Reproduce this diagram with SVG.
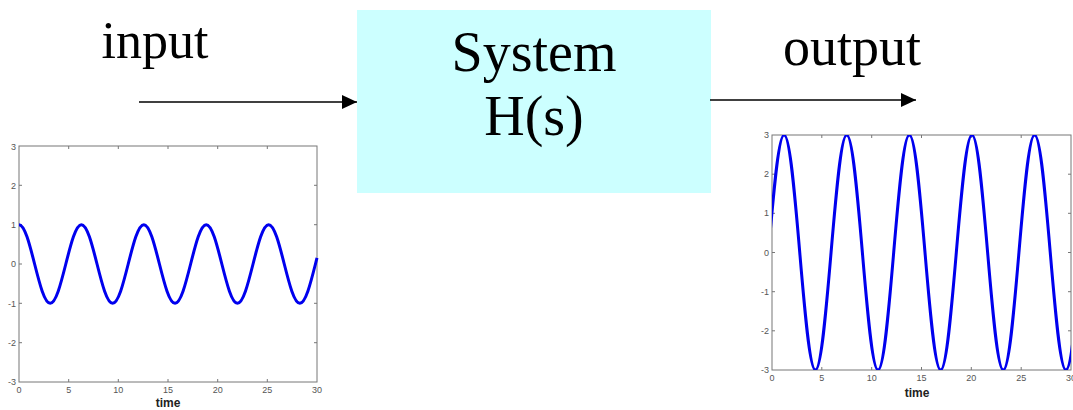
<svg xmlns="http://www.w3.org/2000/svg" width="1073" height="410" viewBox="0 0 1073 410">
<style>
.lbl{font-family:"Liberation Serif","Times New Roman",serif;fill:#000}
.tk{font-family:"Liberation Sans",Arial,sans-serif;font-size:9px;fill:#555}
.ax{fill:none;stroke:#777;stroke-width:1}
.tick{stroke:#777;stroke-width:1}
.curve{fill:none;stroke:#0000ee;stroke-width:3;stroke-linejoin:round;vector-effect:non-scaling-stroke}
.xl{font-family:"Liberation Sans",Arial,sans-serif;font-size:12px;font-weight:bold;fill:#222}
.conn{stroke:#000;stroke-width:1.5;fill:none}
</style>
<defs>
<marker id="ah" markerUnits="userSpaceOnUse" markerWidth="16" markerHeight="14" refX="15" refY="7" orient="auto">
<path d="M0,0 L15,7 L0,14 z" fill="#000"/>
</marker>
<clipPath id="rclip"><rect x="772" y="135" width="299" height="235"/></clipPath>
</defs>

<g id="input-label"><text class="lbl" x="155" y="58" font-size="52" text-anchor="middle">input</text></g>
<g id="output-label"><text class="lbl" x="852" y="65" font-size="54" text-anchor="middle">output</text></g>

<g id="system">
<rect x="357" y="10" width="354" height="183" fill="#ccffff"/>
<text class="lbl" x="534" y="71" font-size="56" text-anchor="middle">System</text>
<text class="lbl" x="534" y="135" font-size="56" text-anchor="middle">H(s)</text>
</g>

<g id="connectors">
<line class="conn" x1="139" y1="102" x2="357" y2="102" marker-end="url(#ah)"/>
<line class="conn" x1="710" y1="100" x2="916" y2="100" marker-end="url(#ah)"/>
</g>

<g id="input-plot">
<rect class="ax" x="19" y="146" width="298" height="236"/>
<g class="tick">
<path d="M19,185.3h3M19,224.7h3M19,264h3M19,303.3h3M19,342.7h3M317,185.3h-3M317,224.7h-3M317,264h-3M317,303.3h-3M317,342.7h-3M68.7,382v-3M118.3,382v-3M168,382v-3M217.7,382v-3M267.3,382v-3M68.7,146v3M118.3,146v3M168,146v3M217.7,146v3M267.3,146v3"/>
</g>
<g class="tk" text-anchor="end">
<text x="16" y="150">3</text><text x="16" y="189">2</text><text x="16" y="228">1</text><text x="16" y="267">0</text><text x="16" y="307">-1</text><text x="16" y="346">-2</text><text x="16" y="385">-3</text>
</g>
<g class="tk" text-anchor="middle">
<text x="19" y="393">0</text><text x="68.7" y="393">5</text><text x="118.3" y="393">10</text><text x="168" y="393">15</text><text x="217.7" y="393">20</text><text x="267.3" y="393">25</text><text x="317" y="393">30</text>
</g>
<text class="xl" x="168" y="407" text-anchor="middle">time</text>
<path class="curve" transform="translate(19,264) scale(9.933,-39.33)" d="M0,1 c0.5685,0 1.0585,-0.4877 1.5708,-1 c0.5123,-0.5123 1.0023,-1 1.5708,-1 c0.5685,0 1.0585,0.4877 1.5708,1 c0.5123,0.5123 1.0023,1 1.5708,1 c0.5685,0 1.0585,-0.4877 1.5708,-1 c0.5123,-0.5123 1.0023,-1 1.5708,-1 c0.5685,0 1.0585,0.4877 1.5708,1 c0.5123,0.5123 1.0023,1 1.5708,1 c0.5685,0 1.0585,-0.4877 1.5708,-1 c0.5123,-0.5123 1.0023,-1 1.5708,-1 c0.5685,0 1.0585,0.4877 1.5708,1 c0.5123,0.5123 1.0023,1 1.5708,1 c0.5685,0 1.0585,-0.4877 1.5708,-1 c0.5123,-0.5123 1.0023,-1 1.5708,-1 c0.5685,0 1.0585,0.4877 1.5708,1 c0.5123,0.5123 1.0023,1 1.5708,1 c0.5685,0 1.0585,-0.4877 1.5708,-1 c0.5123,-0.5123 1.0023,-1 1.5708,-1 c0.5685,0 1.0585,0.4877 1.5708,1 l0.155,0.154"/>
</g>

<g id="output-plot">
<rect class="ax" x="772" y="135" width="299" height="235"/>
<g class="tick">
<path d="M772,174.2h3M772,213.3h3M772,252.5h3M772,291.7h3M772,330.8h3M1071,174.2h-3M1071,213.3h-3M1071,252.5h-3M1071,291.7h-3M1071,330.8h-3M821.8,370v-3M871.7,370v-3M921.5,370v-3M971.3,370v-3M1021.2,370v-3M821.8,135v3M871.7,135v3M921.5,135v3M971.3,135v3M1021.2,135v3"/>
</g>
<g class="tk" text-anchor="end">
<text x="769" y="138">3</text><text x="769" y="177">2</text><text x="769" y="216">1</text><text x="769" y="256">0</text><text x="769" y="295">-1</text><text x="769" y="334">-2</text><text x="769" y="373">-3</text>
</g>
<g class="tk" text-anchor="middle">
<text x="772" y="381">0</text><text x="821.8" y="381">5</text><text x="871.7" y="381">10</text><text x="921.5" y="381">15</text><text x="971.3" y="381">20</text><text x="1021.2" y="381">25</text><text x="1071" y="381">30</text>
</g>
<text class="xl" x="917" y="397" text-anchor="middle">time</text>
<g clip-path="url(#rclip)">
<path class="curve" transform="translate(768.44,252.5) scale(9.967,-117.5)" d="M0,0 c0.5123,0.5123 1.0023,1 1.5708,1 c0.5685,0 1.0585,-0.4877 1.5708,-1 c0.5123,-0.5123 1.0023,-1 1.5708,-1 c0.5685,0 1.0585,0.4877 1.5708,1 c0.5123,0.5123 1.0023,1 1.5708,1 c0.5685,0 1.0585,-0.4877 1.5708,-1 c0.5123,-0.5123 1.0023,-1 1.5708,-1 c0.5685,0 1.0585,0.4877 1.5708,1 c0.5123,0.5123 1.0023,1 1.5708,1 c0.5685,0 1.0585,-0.4877 1.5708,-1 c0.5123,-0.5123 1.0023,-1 1.5708,-1 c0.5685,0 1.0585,0.4877 1.5708,1 c0.5123,0.5123 1.0023,1 1.5708,1 c0.5685,0 1.0585,-0.4877 1.5708,-1 c0.5123,-0.5123 1.0023,-1 1.5708,-1 c0.5685,0 1.0585,0.4877 1.5708,1 c0.5123,0.5123 1.0023,1 1.5708,1 c0.5685,0 1.0585,-0.4877 1.5708,-1 c0.5123,-0.5123 1.0023,-1 1.5708,-1 c0.5685,0 1.0585,0.4877 1.5708,1"/>
</g>
</g>
</svg>
